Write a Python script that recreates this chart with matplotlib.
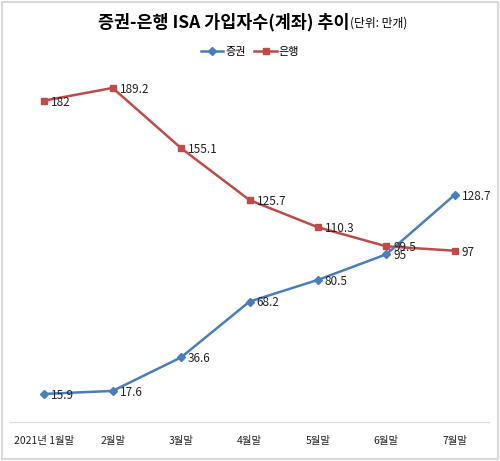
import matplotlib.pyplot as plt
from matplotlib.patches import Rectangle

plt.rcParams['font.family'] = ['Noto Sans CJK KR', 'DejaVu Sans']

months = ["2021년 1월말", "2월말", "3월말", "4월말", "5월말", "6월말", "7월말"]
securities = [15.9, 17.6, 36.6, 68.2, 80.5, 95, 128.7]
banks = [182, 189.2, 155.1, 125.7, 110.3, 99.5, 97]

blue = "#4A7EBB"
red = "#BE4B48"

fig = plt.figure(figsize=(5, 4.61), dpi=100)
fig.patches.append(Rectangle((0.004, 0.004), 0.992, 0.992, transform=fig.transFigure,
                             fill=False, edgecolor="#d9d9d9", linewidth=1.5))

ax = fig.add_axes([0.02, 0.0846, 0.958, 0.766])
x = range(len(months))
ax.plot(x, securities, color=blue, marker="D", markersize=4, linewidth=1.8, label="증권")
ax.plot(x, banks, color=red, marker="s", markersize=5, linewidth=1.8, label="은행")

for i, v in enumerate(securities):
    ax.annotate(f"{v:g}", (i, v), xytext=(5, -1), textcoords="offset points",
                ha="left", va="center", fontsize=8.5, color="#222222")
for i, v in enumerate(banks):
    ax.annotate(f"{v:g}", (i, v), xytext=(5, -1), textcoords="offset points",
                ha="left", va="center", fontsize=8.5, color="#222222")

ax.set_xlim(-0.5, 6.5)
ax.set_ylim(0, 200)
ax.set_yticks([])
ax.set_xticks(list(x))
ax.set_xticklabels(months, fontsize=7.5, color="#222222")
ax.tick_params(axis="x", length=0, pad=10)
for s in ["top", "left", "right"]:
    ax.spines[s].set_visible(False)
ax.spines["bottom"].set_color("#d9d9d9")

fig.text(0.70, 0.952, "증권-은행 ISA 가입자수(계좌) 추이", ha="right", va="center",
         fontsize=12.5, fontweight="bold")
fig.text(0.70, 0.950, "(단위: 만개)", ha="left", va="center", fontsize=8.5)

fig.legend(loc="center", bbox_to_anchor=(0.5, 0.887), ncol=2, frameon=False,
           fontsize=8, handlelength=2, columnspacing=0.8, handletextpad=0.2)

fig.savefig("out.png", dpi=100)
